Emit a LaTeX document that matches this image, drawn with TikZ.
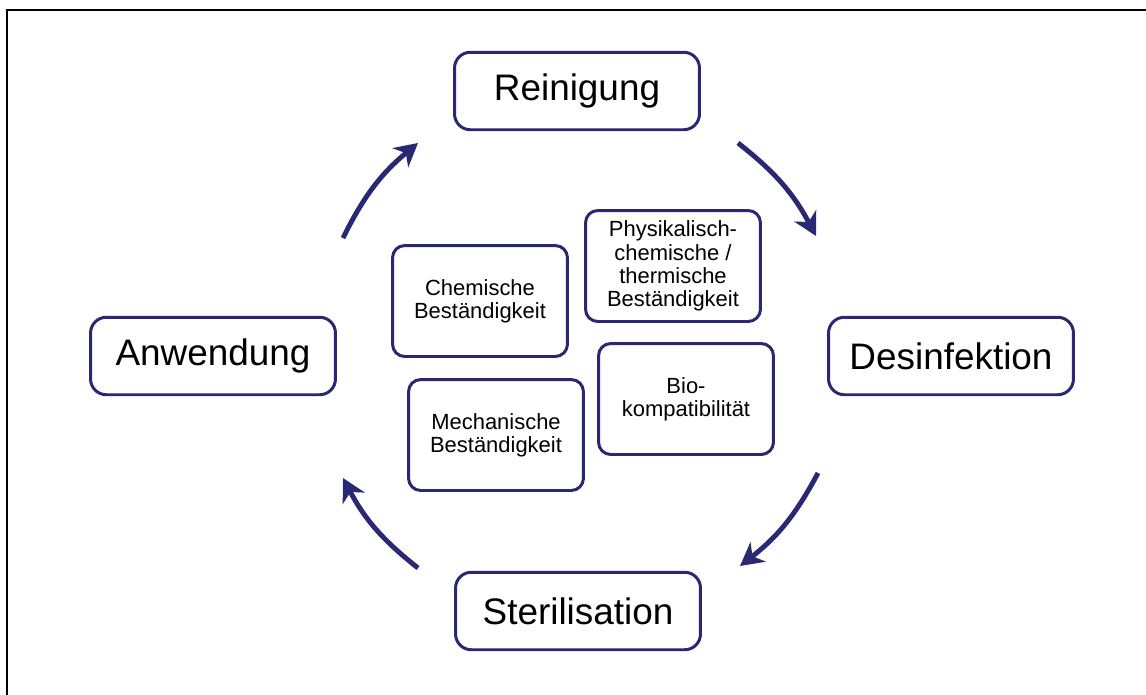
\documentclass[tikz,border=0pt]{standalone}
\usepackage{fontspec}
\setmainfont{Liberation Sans}
\usetikzlibrary{arrows.meta}
\definecolor{navy}{RGB}{40,40,115}

\begin{document}
\begin{tikzpicture}[x=0.02cm,y=0.02cm,thick]
  \tikzset{phase/.style={draw=navy,line width=1.7pt,rounded corners=9pt,fill=white,
      minimum width=4.9cm,minimum height=1.55cm,font=\fontsize{21}{25}\selectfont}}
  \tikzset{prop/.style={draw=navy,line width=1.7pt,rounded corners=7pt,fill=white,
      minimum width=3.5cm,minimum height=2.22cm,align=center,
      font=\fontsize{12.5}{13.3}\selectfont}}
  \tikzset{flow/.style={draw=navy,line width=2.8pt,
      -{Stealth[length=13pt,width=14pt,inset=4pt]}}}

  \useasboundingbox (0,0) rectangle (1146,-694);
  \draw[line width=1.4pt] (7,-700) |- (1150,-10);

  \node[phase] (rein) at (577,-91) {Reinigung};
  \node[phase] (desi) at (951,-356) {Desinfektion};
  \node[phase] (ster) at (578,-611) {Sterilisation};
  \node[phase] (anw) at (213,-356) {Anwendung};

  \node[prop] (chem) at (480,-301) {Chemische\\Beständigkeit};
  \node[prop] (phys) at (673,-266) {Physikalisch-\\chemische /\\thermische\\Beständigkeit};
  \node[prop] (bio) at (686,-399) {Bio-\\kompatibilität};
  \node[prop] (mech) at (496,-435) {Mechanische\\Beständigkeit};

  \coordinate (a1) at (343,-238);
  \coordinate (a2) at (418,-143);
  \coordinate (b1) at (738,-143);
  \coordinate (b2) at (816,-236);
  \coordinate (c1) at (818,-473);
  \coordinate (c2) at (740,-566);
  \coordinate (d1) at (418,-568);
  \coordinate (d2) at (343,-478);

  \path[flow] (a1) to[bend left=12] (a2);
  \path[flow] (b1) to[bend left=12] (b2);
  \path[flow] (c1) to[bend left=12] (c2);
  \path[flow] (d1) to[bend left=12] (d2);
\end{tikzpicture}
\end{document}
